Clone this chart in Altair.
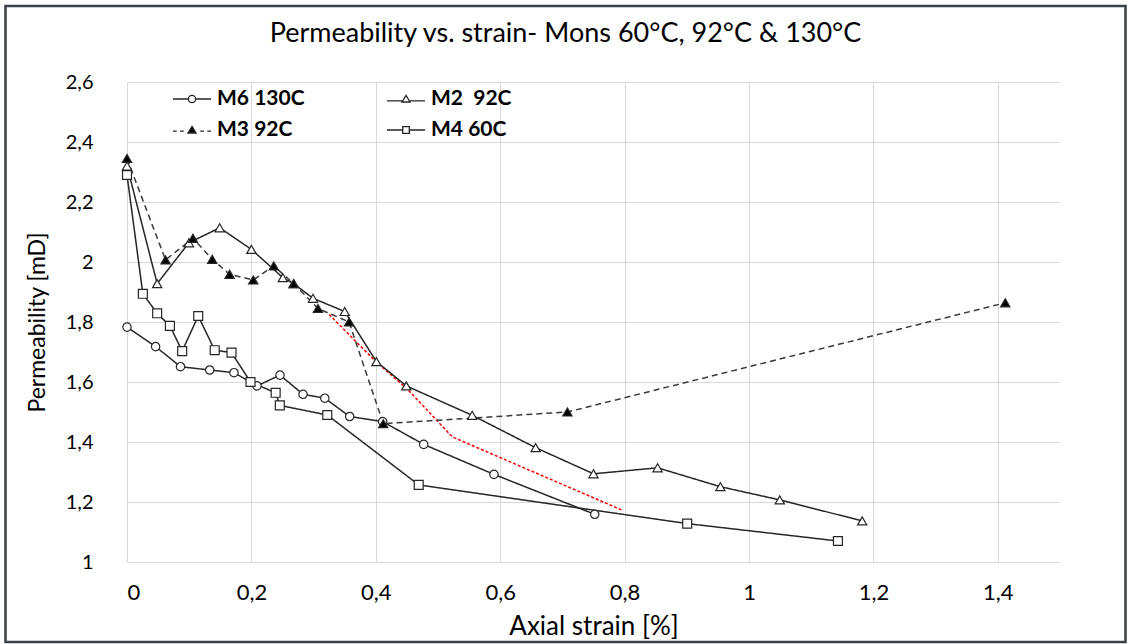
import altair as alt
import pandas as pd

# ---------------- data ----------------
series_names = ["M6 130C", "M2 \u00a092C", "M3 92C", "M4 60C"]

m6_strain = [0.0, 0.046, 0.086, 0.133, 0.172, 0.209, 0.246, 0.283, 0.318, 0.358, 0.411, 0.477, 0.590, 0.752]
m6_perm = [1.783, 1.718, 1.651, 1.640, 1.631, 1.587, 1.623, 1.559, 1.546, 1.485, 1.468, 1.392, 1.292, 1.159]

m2_strain = [0.0, 0.0485, 0.0995, 0.149, 0.200, 0.2505, 0.268, 0.299, 0.350, 0.401, 0.449, 0.555,
             0.657, 0.750, 0.853, 0.954, 1.0495, 1.182]
m2_perm = [2.32, 1.928, 2.064, 2.114, 2.042, 1.948, 1.928, 1.879, 1.835, 1.668, 1.587, 1.489,
           1.381, 1.294, 1.314, 1.251, 1.207, 1.137]

m3_strain = [0.0, 0.062, 0.106, 0.137, 0.165, 0.203, 0.236, 0.268, 0.307, 0.357, 0.412, 0.708, 1.412]
m3_perm = [2.345, 2.007, 2.079, 2.009, 1.959, 1.940, 1.987, 1.928, 1.845, 1.800, 1.461, 1.500, 1.864]

m4_strain = [0.0, 0.0255, 0.0485, 0.069, 0.0887, 0.1145, 0.141, 0.168, 0.1986, 0.239, 0.2457,
             0.322, 0.469, 0.9006, 1.143]
m4_perm = [2.29, 1.894, 1.829, 1.787, 1.703, 1.82, 1.706, 1.698, 1.60, 1.564, 1.522,
           1.49, 1.257, 1.128, 1.07]

trend_strain = [0.325, 0.40, 0.45, 0.523, 0.797]
trend_perm = [1.825, 1.668, 1.578, 1.417, 1.172]

x_ticks = [0, 0.2, 0.4, 0.6, 0.8, 1.0, 1.2, 1.4]
y_ticks = [1.0, 1.2, 1.4, 1.6, 1.8, 2.0, 2.2, 2.4, 2.6]

title_text = "Permeability vs. strain- Mons 60°C, 92°C & 130°C"

# ---------------- styling ----------------
FONT = "Lato"
INK = "#262626"
W, H = 933, 480


def frame(name, xs, ys):
    return pd.DataFrame({"strain": xs, "perm": ys, "series": name, "idx": list(range(len(xs)))})


xscale = alt.Scale(domain=[0, 1.5], nice=False, zero=False)
yscale = alt.Scale(domain=[1.0, 2.6], nice=False, zero=False)
comma = "replace(format(datum.value, '~g'), '.', ',')"

X = alt.X("strain:Q", scale=xscale,
          axis=alt.Axis(values=x_ticks, title="Axial strain [%]", labelExpr=comma,
                        labelFontSize=22, titleFontSize=26, labelPadding=20, titlePadding=10))
Y = alt.Y("perm:Q", scale=yscale,
          axis=alt.Axis(values=y_ticks, title="Permeability [mD]", labelExpr=comma,
                        labelFontSize=20, titleFontSize=23, labelPadding=34, titlePadding=16))

series_data = [
    (series_names[0], m6_strain, m6_perm, "circle", INK, "white", [1, 0]),
    (series_names[1], m2_strain, m2_perm, "triangle-up", INK, "white", [1, 0]),
    (series_names[2], m3_strain, m3_perm, "triangle-up", "#3a3a3a", "black", [6, 4]),
    (series_names[3], m4_strain, m4_perm, "square", INK, "white", [1, 0]),
]

layers = []

# chart border (decoration)
border = alt.Chart(pd.DataFrame({"b": [1]})).mark_rect(
    fillOpacity=0, stroke="#3b4047", strokeWidth=2.5
).encode(x=alt.value(-121.5), x2=alt.value(998.5), y=alt.value(-76), y2=alt.value(560))
layers.append(border)

# red trend line
trend = alt.Chart(frame("trend", trend_strain, trend_perm)).mark_line(
    color="#ff0000", strokeWidth=1.5, strokeDash=[3, 2]
).encode(x=X, y=Y, order="idx:Q")
layers.append(trend)

for name, xs, ys, shape, stroke, fill, dash in series_data:
    df = frame(name, xs, ys)
    line = alt.Chart(df).mark_line(color=stroke, strokeWidth=1.5, strokeDash=dash).encode(
        x=X, y=Y, order="idx:Q")
    layers.append(line)

for name, xs, ys, shape, stroke, fill, dash in series_data:
    df = frame(name, xs, ys)
    size = 80 if shape == "square" else (85 if shape == "triangle-up" else 70)
    pts = alt.Chart(df).mark_point(shape=shape, filled=True, fill=fill, stroke=INK,
                                   strokeWidth=1.2, size=size, opacity=1).encode(x=X, y=Y)
    layers.append(pts)

# legend symbols: line + marker drawn as custom paths
legend_paths = [
    "M-1.27,0L-0.24,0M0.24,0L1.27,0M-0.24,0A0.24,0.24,0,1,0,0.24,0A0.24,0.24,0,1,0,-0.24,0Z",
    "M-1.27,0.12L-0.2,0.12M0.2,0.12L1.27,0.12M0,-0.24L0.27,0.2L-0.27,0.2Z",
    "M-1.27,0.08L-1.02,0.08M-0.8,0.08L-0.55,0.08M0.55,0.08L0.8,0.08M1.02,0.08L1.27,0.08M0,-0.24L0.27,0.2L-0.27,0.2Z",
    "M-1.27,0L-0.22,0M0.22,0L1.27,0M-0.22,-0.22L0.22,-0.22L0.22,0.22L-0.22,0.22Z",
]
legend_fills = ["white", "white", "black", "white"]
legend_strokes = [INK, INK, INK, INK]

leg = alt.Legend(orient="none", legendX=49, legendY=1, columns=2, direction="horizontal", title=None,
                 labelFont=FONT, labelFontSize=21, labelFontWeight="bold", labelColor="#000000",
                 columnPadding=79, rowPadding=5, labelOffset=9, symbolSize=900,
                 symbolStrokeColor=INK, symbolStrokeWidth=1.3)

legend_layer = alt.Chart(pd.DataFrame({"series": series_names})).mark_point(
    clip=True, filled=True, strokeWidth=1.3, size=900, opacity=1
).encode(
    x=alt.value(-300), y=alt.value(-300),
    shape=alt.Shape("series:N", scale=alt.Scale(domain=series_names, range=legend_paths), legend=leg),
    fill=alt.Fill("series:N", scale=alt.Scale(domain=series_names, range=legend_fills), legend=leg),
    stroke=alt.Stroke("series:N", scale=alt.Scale(domain=series_names, range=legend_strokes), legend=leg),
)
layers.append(legend_layer)

chart = alt.layer(*layers).properties(
    width=W, height=H,
    padding={"left": 4, "top": 4, "right": 0, "bottom": 0},
    title=alt.TitleParams(text=title_text, font=FONT, fontSize=27, fontWeight="normal",
                          color="#000000", anchor="middle", frame="group", dx=-28, offset=-43),
).configure_view(stroke=None).configure_axis(
    gridColor="#d9d9d9", gridWidth=1, domain=False, ticks=False, tickSize=0,
    labelFont=FONT, labelColor="#000000",
    titleFont=FONT, titleFontWeight="normal", titleColor="#000000",
)

chart.save("out.html", embed_options={"renderer": "svg", "actions": False})
